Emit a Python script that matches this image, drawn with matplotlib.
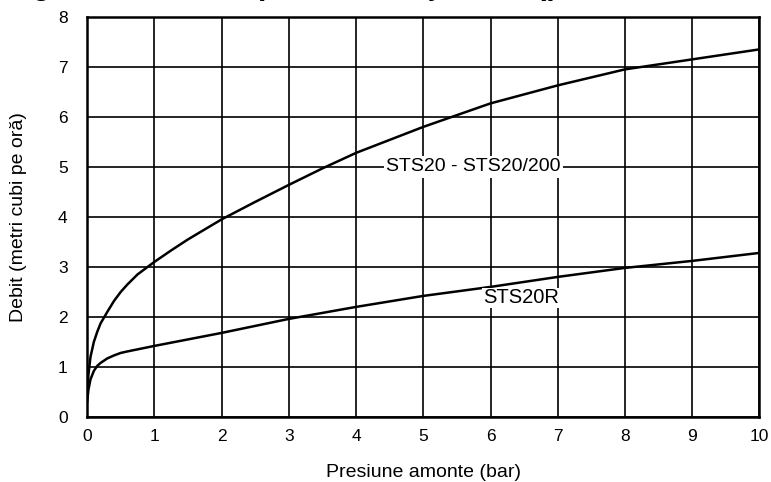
import matplotlib
matplotlib.use("Agg")
import matplotlib.pyplot as plt
import numpy as np

# pressure (bar) vs flow (m3/h)
sts20_x = [0.0, 0.02, 0.05, 0.1, 0.15, 0.2, 0.3, 0.4, 0.5, 0.6, 0.75, 0.9, 1.0, 1.25, 1.5, 2.0,
           2.5, 3.0, 3.5, 4.0, 5.0, 6.0, 7.0, 8.0, 9.0, 10.0]
sts20_y = [0.45, 0.85, 1.2, 1.5, 1.7, 1.87, 2.1, 2.32, 2.5, 2.65, 2.85, 3.0, 3.1, 3.33, 3.55, 3.95,
           4.3, 4.64, 4.97, 5.28, 5.8, 6.27, 6.63, 6.95, 7.15, 7.35]

sts20r_x = [0.0, 0.02, 0.05, 0.1, 0.15, 0.2, 0.3, 0.4, 0.5, 0.6, 1.0, 2.0, 3.0, 4.0, 5.0, 6.0, 7.0, 8.0, 9.0, 10.0]
sts20r_y = [0.3, 0.55, 0.75, 0.92, 1.02, 1.08, 1.17, 1.23, 1.28, 1.31, 1.42, 1.68, 1.96, 2.2, 2.42, 2.6, 2.8, 2.98, 3.12, 3.28]

x_ticks = list(range(0, 11))
y_ticks = list(range(0, 9))

title = "Diagrama de debit pentru funcţionare (presiune amonte)"
label_upper = "STS20 - STS20/200"
label_lower = "STS20R"

plt.rcParams["font.family"] = ["Liberation Sans", "DejaVu Sans"]

fig = plt.figure(figsize=(7.71, 4.82), dpi=100)
ax = fig.add_axes([0.113, 0.135, 0.872, 0.83])

ax.plot(sts20_x, sts20_y, color="black", linewidth=1.8)
ax.plot(sts20r_x, sts20r_y, color="black", linewidth=1.8)

ax.set_xlim(0, 10)
ax.set_ylim(0, 8)
ax.set_xticks(x_ticks)
ax.set_yticks(y_ticks)
ax.tick_params(length=0, labelsize=12.5)
ax.tick_params(axis="x", pad=9)
ax.tick_params(axis="y", pad=14)
ax.grid(True, color="black", linewidth=1.2)
ax.set_axisbelow(True)
for sp in ax.spines.values():
    sp.set_linewidth(1.8)

ax.text(5.75, 5.0, label_upper, ha="center", va="center", fontsize=14,
        bbox=dict(facecolor="white", edgecolor="none", pad=1.5))
ax.text(6.45, 2.38, label_lower, ha="center", va="center", fontsize=14.5,
        bbox=dict(facecolor="white", edgecolor="none", pad=0.5))

ax.set_xlabel("Presiune amonte (bar)", fontsize=14, labelpad=14)
ax.set_ylabel("Debit (metri cubi pe oră)", fontsize=14, labelpad=22)

# title sits above the cropped edge, only the descenders show
fig.text(-0.02, 1.0 + 6 / 482, title, fontsize=22, fontweight="bold",
         ha="left", va="baseline")

fig.savefig("out.png", dpi=100)
